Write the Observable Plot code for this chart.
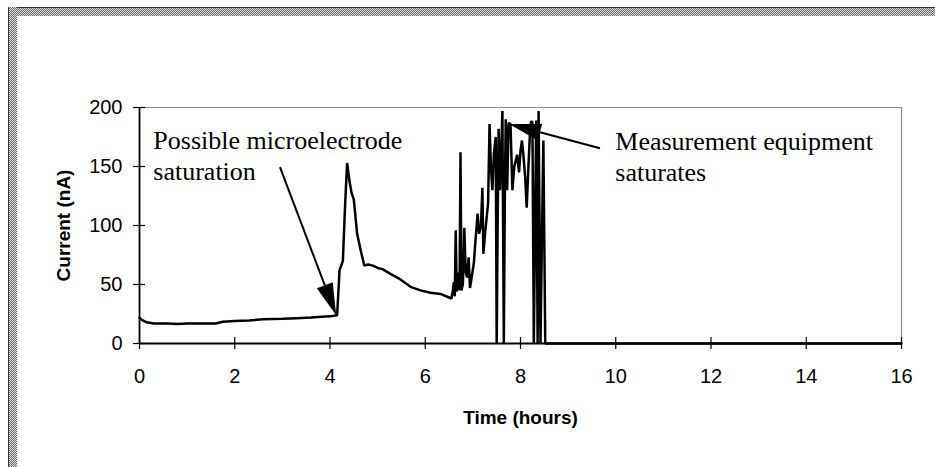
<!DOCTYPE html>
<html>
<head>
<meta charset="utf-8">
<script src="https://cdn.jsdelivr.net/npm/d3@7"></script>
<script src="https://cdn.jsdelivr.net/npm/@observablehq/plot@0.6"></script>
<style>
  html, body { margin: 0; padding: 0; background: #fff; }
  #wrap { position: relative; width: 935px; height: 467px; overflow: hidden; }
  .band { position: absolute; pointer-events: none;
    background: repeating-conic-gradient(#6a6a6a 0% 25%, #dcdcdc 0% 50%) 0 0 / 2px 2px; }
  #bandTop { left: 8px; top: 7px; width: 927px; height: 8px; border-top: 1px solid #333; }
  #bandLeft { left: 8px; top: 7px; width: 8px; height: 460px; border-left: 1px solid #333; }
</style>
</head>
<body>
<div id="wrap">
  <div id="chart"></div>
  <div class="band" id="bandTop"></div>
  <div class="band" id="bandLeft"></div>
</div>
<script>
// Electrode current recording over time
const timeHours = [
  0, 0.05, 0.15, 0.3, 0.6, 0.8, 1.0, 1.3, 1.6, 1.75, 2.0, 2.3, 2.6, 3.0, 3.3, 3.6, 4.0, 4.15,
  4.2, 4.27, 4.32, 4.36, 4.4, 4.45, 4.5, 4.57, 4.65, 4.72, 4.8, 4.9, 5.0, 5.1, 5.27, 5.45, 5.69,
  5.9, 6.11, 6.32, 6.5, 6.55,
  6.58, 6.6, 6.62, 6.64, 6.66, 6.69, 6.72, 6.74, 6.76, 6.79, 6.82, 6.85, 6.88, 6.91, 6.94, 6.97,
  7.02, 7.06, 7.1, 7.13, 7.17, 7.2, 7.22, 7.26, 7.29, 7.32, 7.35, 7.38, 7.41, 7.44, 7.48, 7.5,
  7.52, 7.54, 7.57, 7.6, 7.62, 7.65, 7.67, 7.69, 7.72, 7.75, 7.79, 7.83, 7.87, 7.9, 7.93, 7.97,
  8.0, 8.03, 8.06, 8.1, 8.13, 8.16, 8.2, 8.22, 8.25, 8.28, 8.31, 8.33, 8.36, 8.38, 8.42, 8.45,
  8.48, 8.52, 9, 12, 16
];
const currentNA = [
  22, 20, 18, 17, 17, 16.5, 17, 17, 17, 18.5, 19, 19.5, 20.5, 21, 21.5, 22, 23, 24,
  62, 70, 120, 153, 140, 128, 122, 93, 78, 66, 67, 66, 64, 63, 59, 55, 48,
  45, 43, 42, 39, 38,
  45, 52, 40, 96, 44, 60, 45, 162, 45, 50, 98, 60, 56, 73, 47, 55,
  68, 90, 110, 93, 100, 132, 76, 95, 107, 119, 186, 149, 130, 160, 175, 0,
  100, 182, 130, 170, 197, 0, 120, 190, 130, 187, 186, 130, 150, 155, 160, 145,
  163, 172, 160, 140, 115, 144, 180, 188, 188, 0, 120, 189, 0, 197, 0, 90,
  172, 0, 0, 0, 0
];

const xTicks = [0, 2, 4, 6, 8, 10, 12, 14, 16];
const yTicks = [0, 50, 100, 150, 200];

const xTitle = "Time (hours)";
const yTitle = "Current (nA)";

// Callout notes (anchored at the top-left of each text block)
const noteText = ["Possible microelectrode\nsaturation", "Measurement equipment\nsaturates"];
const noteX = [0.29, 9.99];
const noteY = [184, 183];

// Callout arrows: tail -> head, in data units
const arrowX1 = [2.96, 9.68];
const arrowY1 = [149, 165];
const arrowX2 = [4.14, 7.77];
const arrowY2 = [23.5, 185.5];

const series = timeHours.map((t, i) => ({t, v: currentNA[i]}));
const notes = noteText.map((text, i) => ({text, x: noteX[i], y: noteY[i]}));
const arrows = arrowX1.map((x1, i) => ({x1, y1: arrowY1[i], x2: arrowX2[i], y2: arrowY2[i]}));

// Filled-head arrows drawn through the plot's scales
function calloutArrows(index, scales) {
  const g = d3.create("svg:g");
  for (const a of arrows) {
    const x1 = scales.x(a.x1), y1 = scales.y(a.y1);
    const x2 = scales.x(a.x2), y2 = scales.y(a.y2);
    const dx = x2 - x1, dy = y2 - y1, len = Math.hypot(dx, dy);
    const ux = dx / len, uy = dy / len;
    const headLen = 32, halfW = 8.5;
    const bx = x2 - ux * headLen, by = y2 - uy * headLen;
    g.append("line")
      .attr("x1", x1).attr("y1", y1).attr("x2", bx).attr("y2", by)
      .attr("stroke", "#000").attr("stroke-width", 2);
    g.append("path")
      .attr("d", `M${x2},${y2}L${bx - uy * halfW},${by + ux * halfW}L${bx + uy * halfW},${by - ux * halfW}Z`)
      .attr("fill", "#000");
  }
  return g.node();
}

const chart = Plot.plot({
  width: 935,
  height: 467,
  marginLeft: 139,
  marginRight: 34,
  marginTop: 107,
  marginBottom: 124,
  style: {fontFamily: "Arial, 'Liberation Sans', Helvetica, sans-serif", fontSize: "20px", color: "#000", background: "#fff"},
  x: {domain: [0, 16], ticks: xTicks, label: null},
  y: {domain: [0, 200], ticks: yTicks, label: null},
  marks: [
    Plot.ruleY([200], {stroke: "#8a8a8a", strokeWidth: 1.2}),
    Plot.ruleX([16], {stroke: "#8a8a8a", strokeWidth: 1.2}),
    Plot.axisX({ticks: xTicks, tickSize: 12, dy: -6, tickFormat: () => "", strokeWidth: 1.2}),
    Plot.axisX({ticks: xTicks, tickSize: 0, tickPadding: 25}),
    Plot.axisY({ticks: yTicks, tickSize: 12, dx: 6, tickFormat: () => "", strokeWidth: 1.2}),
    Plot.axisY({ticks: yTicks, tickSize: 0, tickPadding: 17}),
    Plot.line(series, {x: "t", y: "v", stroke: "#000", strokeWidth: 2.5, strokeLinejoin: "miter"}),
    Plot.ruleX([0], {stroke: "#000", strokeWidth: 1.8}),
    Plot.ruleY([0], {stroke: "#000", strokeWidth: 2}),
    Plot.text([xTitle], {frameAnchor: "bottom", dy: 74, lineAnchor: "middle", textAnchor: "middle",
      fontWeight: "bold", fontSize: 19, text: d => d}),
    Plot.text([yTitle], {frameAnchor: "left", dx: -76, rotate: -90, lineAnchor: "middle", textAnchor: "middle",
      fontWeight: "bold", fontSize: 19, text: d => d}),
    Plot.text(notes, {
      x: "x", y: "y", text: "text", textAnchor: "start", lineAnchor: "top",
      lineHeight: 1.2, fontFamily: "'Liberation Serif', 'Times New Roman', serif", fontSize: 26
    }),
    calloutArrows
  ]
});
document.getElementById("chart").appendChild(chart);
</script>
</body>
</html>
